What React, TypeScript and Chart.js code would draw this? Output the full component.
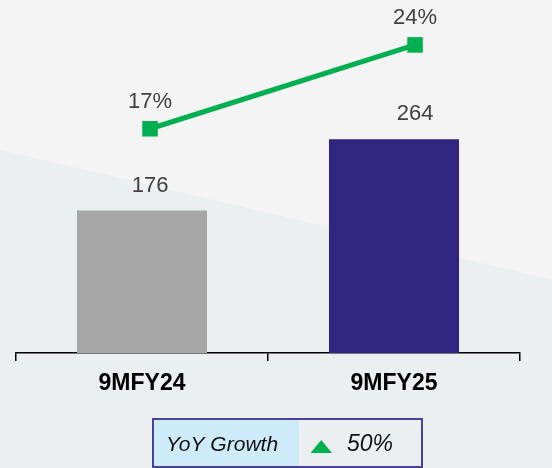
import React, { useEffect, useRef } from "react";
import { Chart, registerables } from "chart.js";

Chart.register(...registerables);

const categories = ["9MFY24", "9MFY25"];
const revenueValues = [176, 264];
const marginValues = [17, 24];
const barColors = ["#a6a6a6", "#302681"];
const yoyLabel = "YoY Growth";
const yoyValue = "50%";

const FONT = '"Liberation Sans", Arial, sans-serif';

const decorPlugin = {
  id: "decor",
  beforeDraw(chart: any) {
    const { ctx, width, height } = chart;
    ctx.save();
    ctx.fillStyle = "#f4f4f4";
    ctx.fillRect(0, 0, width, height);
    ctx.fillStyle = "#ebeff0";
    ctx.beginPath();
    ctx.moveTo(0, height * 0.32);
    ctx.lineTo(width, height * 0.598);
    ctx.lineTo(width, height);
    ctx.lineTo(0, height);
    ctx.closePath();
    ctx.fill();
    ctx.restore();
  },
  afterDraw(chart: any) {
    const { ctx } = chart;
    const xl = chart.scales.xLine;
    const y = chart.scales.y;
    const yl = chart.scales.yLine;
    ctx.save();
    ctx.fillStyle = "#404040";
    ctx.font = `22px ${FONT}`;
    ctx.textAlign = "center";
    ctx.textBaseline = "alphabetic";
    revenueValues.forEach((v, i) => {
      ctx.fillText(String(v), xl.getPixelForValue(i), y.getPixelForValue(v) - 19);
    });
    marginValues.forEach((v, i) => {
      ctx.fillText(v + "%", xl.getPixelForValue(i), yl.getPixelForValue(v) - 21);
    });

    // YoY box
    const bx = 153, by = 419, bw = 269, bh = 48, split = 146;
    ctx.fillStyle = "#cdebf8";
    ctx.fillRect(bx, by, split, bh);
    ctx.strokeStyle = "#4a3f99";
    ctx.lineWidth = 2;
    ctx.strokeRect(bx, by, bw, bh);
    ctx.fillStyle = "#111111";
    ctx.textAlign = "left";
    ctx.font = `italic 21px ${FONT}`;
    ctx.fillText(yoyLabel, 166, 451);
    ctx.fillStyle = "#00b050";
    ctx.beginPath();
    ctx.moveTo(310.5, 453);
    ctx.lineTo(332, 453);
    ctx.lineTo(321.25, 440);
    ctx.closePath();
    ctx.fill();
    ctx.fillStyle = "#111111";
    ctx.font = `italic 23px ${FONT}`;
    ctx.fillText(yoyValue, 347, 451);
    ctx.restore();
  },
};

export default function App() {
  const ref = useRef<HTMLCanvasElement>(null);
  useEffect(() => {
    if (!ref.current) return;
    const chart = new Chart(ref.current, {
      type: "bar",
      data: {
        labels: categories,
        datasets: [
          {
            type: "line",
            data: marginValues.map((v, i) => ({ x: i, y: v })),
            xAxisID: "xLine",
            yAxisID: "yLine",
            borderColor: "#00b050",
            backgroundColor: "#00b050",
            borderWidth: 5,
            pointStyle: "rect",
            pointRadius: 11,
            pointBorderWidth: 0,
            clip: false,
            order: 0,
          } as any,
          {
            type: "bar",
            data: revenueValues,
            backgroundColor: barColors,
            categoryPercentage: 1,
            barPercentage: 0.516,
            grouped: false,
            xAxisID: "x",
            yAxisID: "y",
            order: 1,
          },
        ],
      },
      options: {
        responsive: false,
        animation: false,
        layout: { autoPadding: false, padding: { top: 5, left: 16, right: 32, bottom: 61.5 } },
        plugins: { legend: { display: false }, tooltip: { enabled: false } },
        scales: {
          x: {
            type: "category",
            offset: true,
            grid: {
              display: true,
              offset: true,
              drawOnChartArea: false,
              drawTicks: true,
              tickLength: 8,
              color: "#000000",
              lineWidth: 1.5,
            },
            border: { display: true, color: "#000000", width: 1.5 },
            ticks: {
              color: "#000000",
              padding: 9,
              font: { family: FONT, size: 23, weight: "bold" },
            },
          },
          y: { display: false, min: 0, max: 430 },
          xLine: { type: "linear", display: false, offset: false, min: -0.5057, max: 1.396 },
          yLine: { type: "linear", display: false, offset: false, min: -1.71, max: 27.33 },
        },
      } as any,
      plugins: [decorPlugin],
    });
    return () => chart.destroy();
  }, []);
  return (
    <div style={{ position: "fixed", left: 0, top: 0, width: 552, height: 468 }}>
      <canvas ref={ref} width={552} height={468} style={{ display: "block" }} />
    </div>
  );
}
